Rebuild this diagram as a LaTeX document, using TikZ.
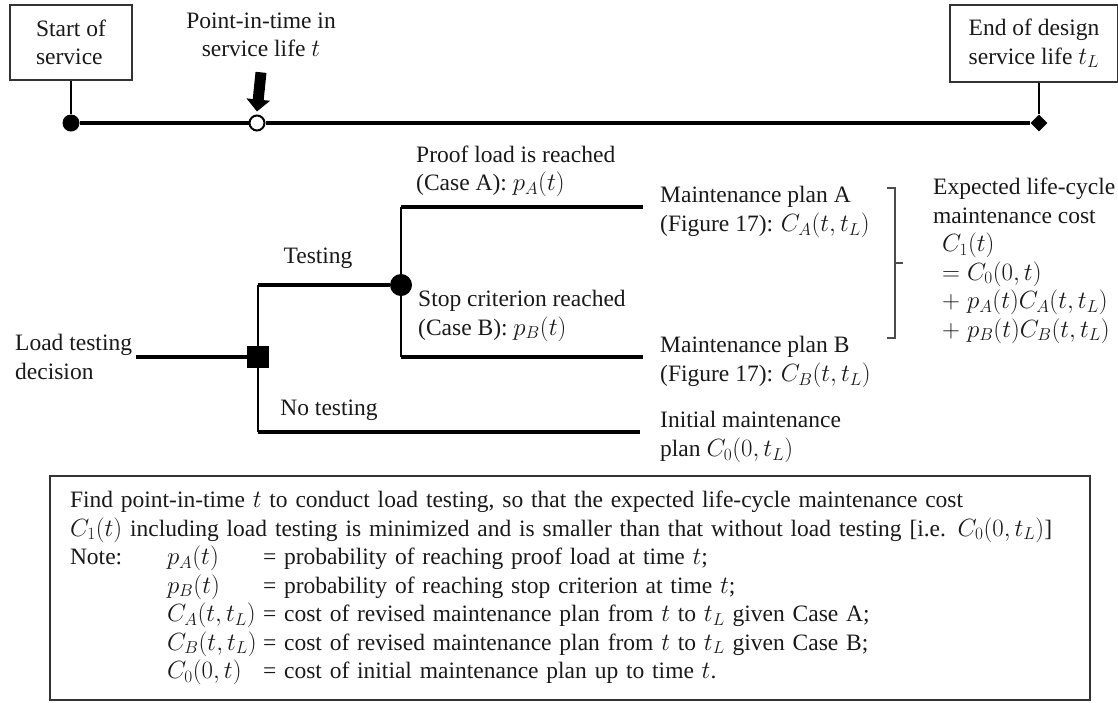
\documentclass[tikz,border=0pt]{standalone}
\usepackage{fontspec}
\setmainfont{Liberation Serif}
\usetikzlibrary{arrows.meta,shapes.geometric,positioning}

\tikzset{
  lbl/.style={align=left,inner sep=0pt},
  tbox/.style={draw=black!80,line width=1.6pt,align=left,inner sep=0pt},
  timeline/.style={line width=4.5pt},
  branch/.style={line width=3.2pt},
  stem/.style={line width=1.4pt},
  bigdot/.style={circle,fill,inner sep=0pt,minimum size=#1},
  brace/.style={line width=1.4pt,draw=black!70},
}

\begin{document}
\begin{tikzpicture}[x=1pt,y=-1pt,font=\fontsize{23.5}{28.5}\selectfont,text=black!90]
\useasboundingbox (0,0) rectangle (1118,702);

% service life axis
\node[tbox,minimum width=122pt,minimum height=75pt] (start) at (71,42.5) {Start of\\service};
\node[tbox,minimum width=168pt,minimum height=77pt] (design) at (1034,43.5) {End of design\\service life $t_L$};
\node[lbl,align=center] (ptime) at (261,35) {Point-in-time in\\service life $t$};
\node[bigdot=17pt] (t0) at (71,123) {};
\node[circle,draw,fill=white,line width=2pt,inner sep=0pt,minimum size=15pt] (tnow) at (257,123) {};
\node[diamond,fill,inner sep=0pt,minimum size=17pt] (tL) at (1039,123) {};
\draw[timeline] (t0) -- (tnow) (tnow) -- (tL);
\draw[stem] (start.south) -- (t0.north);
\draw[stem] (tL.north) -- (tL.north |- design.south);
\draw[line width=11pt,-{Triangle[width=23pt,length=12pt]}] ([yshift=-15pt]ptime.south) -- ([yshift=3pt]tnow.north);

% decision tree
\node[lbl,inner sep=4pt,anchor=west] (choice) at (11,357) {Load testing\\decision};
\node[fill,inner sep=0pt,minimum size=22pt] (dec) at (258,357) {};
\node[bigdot=22pt] (chance) at (401,285) {};
\coordinate (ytest) at (258,285);
\coordinate (yno) at (258,432);
\coordinate (ya) at (401,207);
\coordinate (yb) at (401,357);
\coordinate (ea) at (643,207);
\coordinate (eb) at (643,357);
\coordinate (en) at (640,432);
\draw[branch] (choice) -- (dec);
\draw[stem] (ytest) -- (yno);
\draw[branch] (ytest) -- (chance);
\draw[branch] (yno) -- (en);
\draw[stem] (ya) -- (yb);
\draw[branch] (ya) -- (ea);
\draw[branch] (yb) -- (eb);

\node[lbl] (testing) at (318,258) {Testing};
\node[lbl] (notest) at (329,410) {No testing};
\node[lbl,anchor=south west] (casea) at (416,197) {Proof load is reached\\(Case A): $p_A(t)$};
\node[lbl,anchor=north west] (caseb) at (418,290) {Stop criterion reached\\(Case B): $p_B(t)$};

% outcomes
\node[lbl,anchor=west] (plana) at (660,212) {Maintenance plan A\\(Figure 17): $C_A(t,t_L)$};
\node[lbl,anchor=west] (planb) at (660,362) {Maintenance plan B\\(Figure 17): $C_B(t,t_L)$};
\node[lbl,anchor=west] (plan0) at (660,437) {Initial maintenance\\plan $C_0(0,t_L)$};

% bracket and total cost
\draw[brace] (887,188) -- (895,188) -- (895,338) -- (887,338) (895,263) -- (903,263);
\node[lbl,anchor=north west] (cost) at (933,178) {Expected life-cycle\\maintenance cost\\
  \hspace*{9pt}$C_1(t)$\\
  \hspace*{9pt}$=C_0(0,t)$\\
  \hspace*{9pt}$+\;p_A(t)C_A(t,t_L)$\\
  \hspace*{9pt}$+\;p_B(t)C_B(t,t_L)$};

% objective and notation
\node[tbox,text width=1000pt,minimum height=224pt,inner xsep=20pt,inner ysep=8pt] (goal) at (570,588) {%
Find point-in-time $t$ to conduct load testing, so that the expected life-cycle maintenance cost\\
$C_1(t)$ including load testing is minimized and is smaller than that without load testing [i.e. $C_0(0,t_L)$]\\
\makebox[97pt][l]{Note:}\makebox[96pt][l]{$p_A(t)$}= probability of reaching proof load at time $t$;\\
\hspace*{97pt}\makebox[96pt][l]{$p_B(t)$}= probability of reaching stop criterion at time $t$;\\
\hspace*{97pt}\makebox[96pt][l]{$C_A(t,t_L)$}= cost of revised maintenance plan from $t$ to $t_L$ given Case A;\\
\hspace*{97pt}\makebox[96pt][l]{$C_B(t,t_L)$}= cost of revised maintenance plan from $t$ to $t_L$ given Case B;\\
\hspace*{97pt}\makebox[96pt][l]{$C_0(0,t)$}= cost of initial maintenance plan up to time $t$.};
\end{tikzpicture}
\end{document}
